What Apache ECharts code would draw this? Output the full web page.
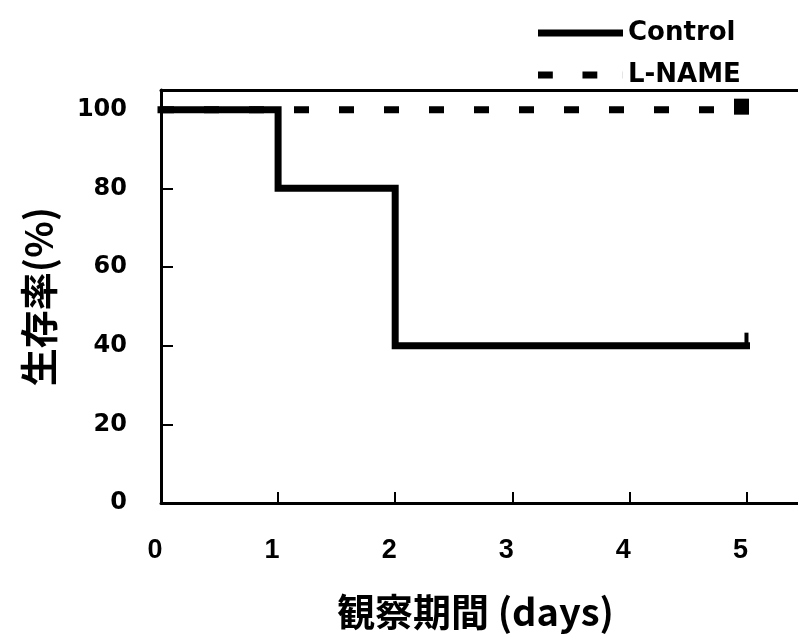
<!DOCTYPE html>
<html><head><meta charset="utf-8">
<script src="https://cdn.jsdelivr.net/npm/echarts@6/dist/echarts.min.js"></script>
<style>html,body{margin:0;padding:0;background:#fff}#c{width:798px;height:637px}</style>
</head><body><div id="c"></div>
<script>
const seriesNames = ['Control', 'L-NAME'];
const controlSteps = [[0, 100], [1, 80], [2, 40], [5, 40]];
const lnameSteps = [[0, 100], [5, 100]];
const controlCensor = [[5, 40]];
const lnameCensor = [[5, 100]];
const xTicks = [0, 1, 2, 3, 4, 5];
const yTicks = [0, 20, 40, 60, 80, 100];
const xTitle = '観察期間 (days)';
const yTitle = '生存率(%)';

const chart = echarts.init(document.getElementById('c'));
const xLab = {fontFamily: 'Liberation Sans, Arial, sans-serif', fontWeight: 'bold', fontSize: 27, color: '#000'};
const yLab = {fontFamily: 'DejaVu Sans, sans-serif', fontWeight: 'bold', fontSize: 24, color: '#000'};
const axisLineStyle = {color: '#000', width: 3};
chart.setOption({
  animation: false,
  grid: {left: 161, top: 90, bottom: 134, right: 0},
  legend: {
    orient: 'vertical', left: 533, top: 15, itemWidth: 85, itemHeight: 7, itemGap: 16,
    data: [
      {name: seriesNames[0], icon: 'rect'},
      {name: seriesNames[1], icon: 'path://M0,0h15v7h-15z M45,0h15v7h-15z M85.9,0h0.1v7h-0.1z'}
    ],
    textStyle: {fontFamily: 'DejaVu Sans, sans-serif', fontWeight: 'bold', fontSize: 26, lineHeight: 26, color: '#000'},
  },
  xAxis: [{
    type: 'value', min: 0, max: 5.44, interval: 1,
    axisLine: {lineStyle: axisLineStyle},
    axisTick: {inside: true, length: 11, lineStyle: {color: '#000', width: 2}},
    splitLine: {show: false},
    axisLabel: Object.assign({margin: 34, padding: [0, 12, 0, 0], showMaxLabel: false,
      formatter: v => xTicks.includes(v) ? String(v) : ''}, xLab),
    name: xTitle, nameLocation: 'middle', nameGap: 90,
    nameTextStyle: {fontFamily: 'Noto Sans CJK JP, sans-serif', fontWeight: 'bold', fontSize: 38, color: '#000', padding: [0, 8, 0, 0]}
  }, {
    type: 'value', position: 'top', min: 0, max: 5.44,
    axisLine: {show: true, lineStyle: axisLineStyle},
    axisTick: {show: false}, axisLabel: {show: false}, splitLine: {show: false}
  }],
  yAxis: {
    type: 'value', min: 0, max: 105, interval: 20,
    axisLine: {lineStyle: axisLineStyle},
    axisTick: {inside: true, length: 12, lineStyle: {color: '#000', width: 2}},
    splitLine: {show: false},
    axisLabel: Object.assign({margin: 34, padding: [0, 0, 4, 0], showMaxLabel: false,
      formatter: v => yTicks.includes(v) ? String(v) : ''}, yLab),
    name: yTitle, nameLocation: 'middle', nameGap: 103, nameRotate: 90,
    nameTextStyle: {fontFamily: 'Noto Sans CJK JP, sans-serif', fontWeight: 'bold', fontSize: 38, color: '#000', padding: [0, 0, 0, 0]}
  },
  series: [
    {name: 'L-NAME', type: 'line', data: lnameSteps, symbol: 'none', z: 2,
     lineStyle: {color: '#000', width: 7, type: [15, 30], dashOffset: 2, cap: 'butt'}, itemStyle: {color: '#000'}},
    {name: 'Control', type: 'line', step: 'end', data: controlSteps, symbol: 'none', z: 3,
     lineStyle: {color: '#000', width: 7, cap: 'square', join: 'miter'}, itemStyle: {color: '#000'}},
    {name: 'censorC', type: 'scatter', data: controlCensor, symbol: 'rect', symbolSize: [4, 14], symbolOffset: [0, -6],
     itemStyle: {color: '#000', opacity: 1}, z: 4, silent: true},
    {name: 'censorL', type: 'scatter', data: lnameCensor, symbol: 'rect', symbolSize: [15, 16], symbolOffset: [-5, -3],
     itemStyle: {color: '#000', opacity: 1}, z: 4, silent: true}
  ]
});
</script></body></html>
